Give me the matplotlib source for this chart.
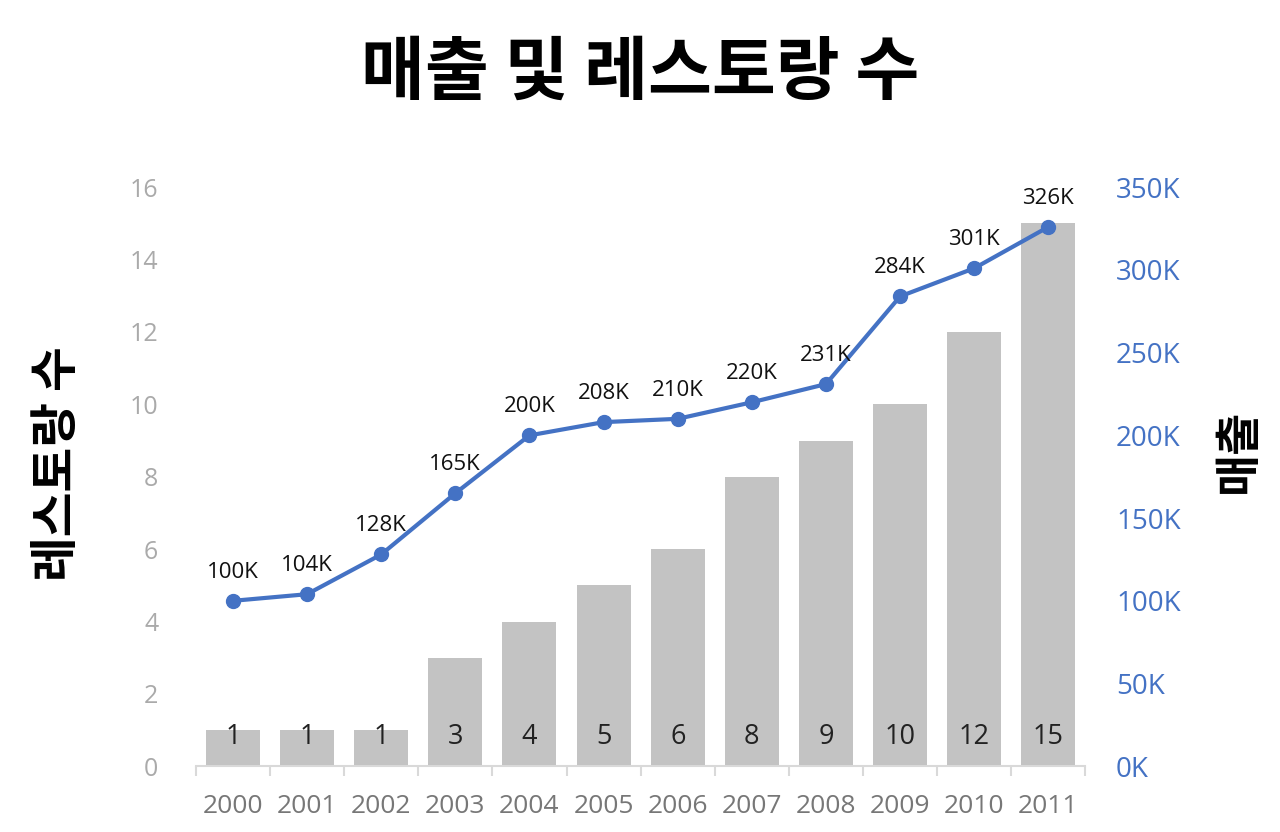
import matplotlib.pyplot as plt
from matplotlib.ticker import FuncFormatter, FixedLocator

plt.rcParams['font.family'] = ['Noto Sans CJK KR', 'DejaVu Sans']

# Datos
anios = ['2000', '2001', '2002', '2003', '2004', '2005',
         '2006', '2007', '2008', '2009', '2010', '2011']
restaurantes = [1, 1, 1, 3, 4, 5, 6, 8, 9, 10, 12, 15]
ventas = [100, 104, 128, 165, 200, 208, 210, 220, 231, 284, 301, 326]  # en miles

azul = '#4472C4'
gris_barra = '#C3C3C3'
fuente_num = 'Open Sans'

fig = plt.figure(figsize=(12.8, 8.32), dpi=100)
ax = fig.add_axes([0.153, 0.079, 0.695, 0.696])
ax2 = ax.twinx()

x = list(range(len(anios)))

# Barras: número de restaurantes
ax.bar(x, restaurantes, width=0.73, color=gris_barra, zorder=1)
for xi, v in zip(x, restaurantes):
    ax.text(xi, 0.82, str(v), ha='center', va='center', fontsize=19.5,
            color='#222222', family=fuente_num)

ax.set_xlim(-0.5, len(anios) - 0.5)
ax.set_ylim(0, 16)
ax.set_yticks(range(0, 17, 2))
ax.set_xticks(x)
ax.set_xticklabels(anios)
ax.xaxis.set_minor_locator(FixedLocator([i - 0.5 for i in range(len(anios) + 1)]))
ax.tick_params(axis='x', which='major', length=0, pad=20, labelsize=19,
               labelcolor='#777777')
ax.tick_params(axis='x', which='minor', length=7, color='#D9D9D9', width=1.5)
ax.tick_params(axis='y', length=0, pad=27, labelsize=18, labelcolor='#AAAAAA')
for lab in ax.get_xticklabels() + ax.get_yticklabels():
    lab.set_family(fuente_num)

for s in ['top', 'right', 'left']:
    ax.spines[s].set_visible(False)
    ax2.spines[s].set_visible(False)
ax2.spines['bottom'].set_visible(False)
ax.spines['bottom'].set_color('#D9D9D9')
ax.spines['bottom'].set_linewidth(1.5)

# Línea: ventas
ax2.plot(x, ventas, color=azul, linewidth=3, marker='o', markersize=10, zorder=3)
for xi, v in zip(x, ventas):
    ax2.annotate(f'{v}K', (xi, v), xytext=(0, 13), textcoords='offset points',
                 ha='center', va='bottom', fontsize=16, color='#111111',
                 family=fuente_num)
ax2.set_ylim(0, 350)
ax2.set_yticks(range(0, 351, 50))
ax2.yaxis.set_major_formatter(FuncFormatter(lambda v, p: f'{int(v)}K'))
ax2.tick_params(axis='y', length=0, pad=22, labelsize=20, labelcolor=azul)
for lab in ax2.get_yticklabels():
    lab.set_family(fuente_num)

# Títulos de ejes
fig.text(57 / 1280, 1 - 464 / 832, '레스토랑 수', rotation=90, ha='center',
         va='center', fontsize=35, fontweight='bold')
fig.text(1239 / 1280, 1 - 451 / 832, '매출', rotation=90, ha='center',
         va='center', fontsize=33, fontweight='bold')

fig.text(0.5, 0.912, '매출 및 레스토랑 수', ha='center', va='center',
         fontsize=50, fontweight='bold')

plt.savefig('out.png', dpi=100)
plt.close()
